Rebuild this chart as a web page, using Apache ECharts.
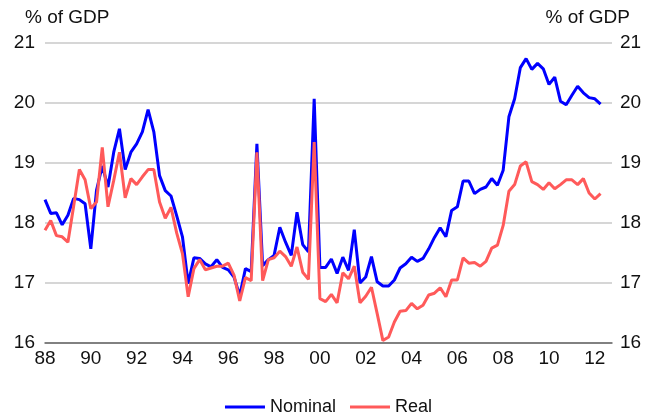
<!DOCTYPE html>
<html>
<head>
<meta charset="utf-8">
<script src="https://cdn.jsdelivr.net/npm/echarts@6/dist/echarts.min.js"></script>
<style>
  html, body { margin: 0; padding: 0; background: #fff; }
  #chart { width: 657px; height: 418px; }
</style>
</head>
<body>
<div id="chart"></div>
<script>
// quarterly, 1988Q1 .. 2012Q4 (data runs to 2012Q2)
const years = [];
for (let y = 1988; y <= 2012; y++) years.push(y);
const categories = [];
years.forEach(y => { for (let q = 1; q <= 4; q++) categories.push(y + 'Q' + q); });

const tickLabels = ['88', '90', '92', '94', '96', '98', '00', '02', '04', '06', '08', '10', '12'];

const nominal = [
  18.39, 18.16, 18.17, 17.97, 18.13, 18.41, 18.39, 18.32,
  17.57, 18.55, 18.95, 18.60, 19.18, 19.57, 18.89, 19.18,
  19.32, 19.52, 19.89, 19.52, 18.79, 18.54, 18.45, 18.12,
  17.77, 16.99, 17.42, 17.41, 17.32, 17.27, 17.39, 17.26,
  17.22, 17.10, 16.79, 17.24, 17.19, 19.32, 17.29, 17.39,
  17.46, 17.93, 17.68, 17.46, 18.18, 17.64, 17.52, 20.07,
  17.26, 17.26, 17.40, 17.16, 17.43, 17.21, 17.89, 17.00,
  17.10, 17.44, 17.02, 16.95, 16.95, 17.05, 17.25, 17.32,
  17.43, 17.36, 17.41, 17.57, 17.76, 17.92, 17.77, 18.21,
  18.27, 18.70, 18.70, 18.49, 18.56, 18.60, 18.74, 18.63,
  18.88, 19.77, 20.07, 20.59, 20.74, 20.56, 20.66, 20.57,
  20.31, 20.43, 20.03, 19.97, 20.13, 20.28, 20.17, 20.09,
  20.07, 19.98
];

const real = [
  17.88, 18.04, 17.79, 17.77, 17.68, 18.28, 18.89, 18.72,
  18.24, 18.35, 19.26, 18.27, 18.71, 19.18, 18.42, 18.74,
  18.64, 18.77, 18.89, 18.89, 18.35, 18.08, 18.26, 17.83,
  17.49, 16.77, 17.24, 17.39, 17.22, 17.25, 17.28, 17.28,
  17.33, 17.13, 16.70, 17.09, 17.04, 19.18, 17.04, 17.39,
  17.42, 17.53, 17.44, 17.28, 17.60, 17.18, 17.06, 19.35,
  16.74, 16.69, 16.81, 16.67, 17.17, 17.07, 17.28, 16.67,
  16.78, 16.93, 16.49, 16.04, 16.10, 16.35, 16.53, 16.54,
  16.66, 16.57, 16.63, 16.80, 16.83, 16.92, 16.77, 17.05,
  17.05, 17.42, 17.33, 17.34, 17.28, 17.36, 17.58, 17.63,
  17.96, 18.53, 18.64, 18.95, 19.02, 18.69, 18.64, 18.56,
  18.67, 18.57, 18.64, 18.72, 18.72, 18.64, 18.74, 18.50,
  18.40, 18.49
];

const font = "'Liberation Sans', Arial, sans-serif";
const chart = echarts.init(document.getElementById('chart'));

const yAxisCommon = {
  type: 'value',
  min: 16,
  max: 21,
  interval: 1,
  axisLine: { show: false },
  axisTick: { show: false },
  splitLine: { lineStyle: { color: '#c8c8c8', width: 1.5 } },
  axisLabel: { color: '#111', fontSize: 19, fontFamily: font }
};

chart.setOption({
  animation: false,
  title: [
    { text: '% of GDP', left: 20, top: 3,
      textStyle: { fontSize: 19, fontWeight: 'normal', color: '#111', fontFamily: font } },
    { text: '% of GDP', right: 22, top: 3,
      textStyle: { fontSize: 19, fontWeight: 'normal', color: '#111', fontFamily: font } }
  ],
  grid: { left: 45, right: 45, top: 43, bottom: 75 },
  legend: {
    top: 393,
    left: 'center',
    icon: 'rect',
    itemWidth: 40,
    itemHeight: 3,
    itemGap: 14,
    textStyle: { fontSize: 18, color: '#111', fontFamily: font },
    data: ['Nominal', 'Real']
  },
  xAxis: {
    type: 'category',
    data: categories,
    boundaryGap: false,
    axisLine: { lineStyle: { color: '#666', width: 1.5 } },
    axisTick: { show: false },
    splitLine: { show: false },
    axisLabel: {
      interval: 7,
      margin: 6,
      color: '#111',
      fontSize: 19,
      fontFamily: font,
      formatter: (v, i) => tickLabels[i / 8]
    }
  },
  yAxis: [
    Object.assign({}, yAxisCommon, { position: 'left', axisLabel: Object.assign({}, yAxisCommon.axisLabel, { margin: 10 }) }),
    Object.assign({}, yAxisCommon, { position: 'right', splitLine: { show: false }, axisLabel: Object.assign({}, yAxisCommon.axisLabel, { margin: 8 }) })
  ],
  series: [
    {
      name: 'Nominal',
      type: 'line',
      data: nominal,
      symbol: 'none',
      lineStyle: { color: '#0000ff', width: 3 },
      itemStyle: { color: '#0000ff' }
    },
    {
      name: 'Real',
      type: 'line',
      data: real,
      symbol: 'none',
      lineStyle: { color: '#ff5a5a', width: 3 },
      itemStyle: { color: '#ff5a5a' }
    }
  ]
});
</script>
</body>
</html>
